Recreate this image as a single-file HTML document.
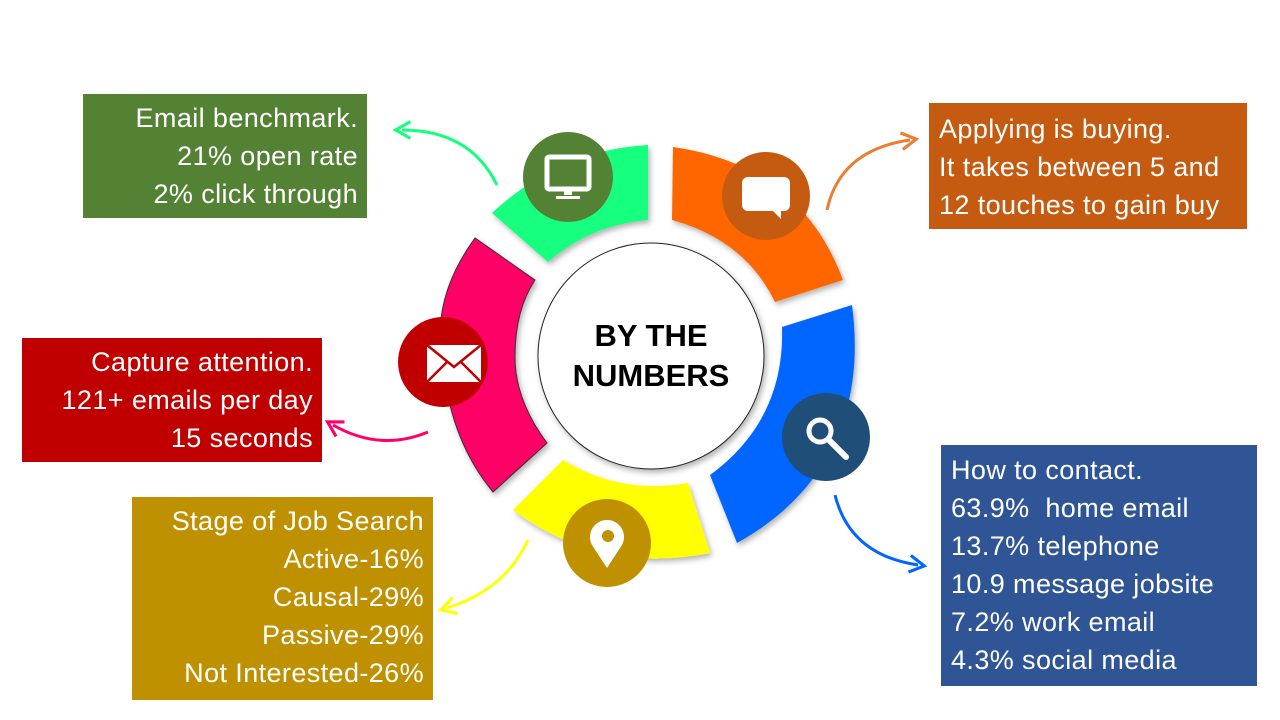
<!DOCTYPE html>
<html><head><meta charset="utf-8"><style>
body{margin:0;width:1280px;height:720px;background:#fff;overflow:hidden;position:relative;font-family:"Liberation Sans",sans-serif}
.b{position:absolute;color:#fff;font-size:27px;letter-spacing:0.4px;line-height:38px;box-sizing:border-box;white-space:nowrap}
.r{text-align:right;padding-right:9px}
.l{text-align:left;padding-left:10px}
svg{position:absolute;left:0;top:0}
</style></head><body>
<svg width="1280" height="720" viewBox="0 0 1280 720">
<defs>
<filter id="sh" x="-20%" y="-20%" width="140%" height="140%"><feDropShadow dx="2" dy="3" stdDeviation="3" flood-color="#000" flood-opacity="0.3"/></filter>
<marker id="ag" viewBox="0 0 10 10" refX="5" refY="5" markerWidth="7" markerHeight="7" orient="auto"><path d="M1,1 L8,5 L1,9" fill="none" stroke="context-stroke" stroke-width="1.5"/></marker>
</defs>
<g filter="url(#sh)">
<path d="M492,213 Q560,150 648,145 L648,220 Q590,225 548,262 Z" fill="#14FF7E"/>
<path d="M673,147 Q800,165 843,280 L775,302 Q745,240 672,220 Z" fill="#FF6600"/>
<path d="M852,305 C862,380 850,480 737,543 L710,475 Q785,420 782,327 Z" fill="#0066FF"/>
<path d="M513,510 Q600,575 710,553 L688,483 Q620,495 563,460 Z" fill="#FFFF00"/>
<path d="M475,238 Q430,300 443,363 Q450,440 493,492 L547,443 Q515,400 515,357 Q515,310 535,280 Z" fill="#FF0066" stroke="#333" stroke-width="1"/>
<circle cx="651" cy="356" r="113" fill="#fff" stroke="#222" stroke-width="1"/>
</g>
<text x="651" y="346" text-anchor="middle" font-family="Liberation Sans" font-weight="bold" font-size="31">BY THE</text>
<text x="651" y="386" text-anchor="middle" font-family="Liberation Sans" font-weight="bold" font-size="31">NUMBERS</text>
<circle cx="568" cy="177" r="45" fill="#548235"/>
<rect x="547" y="157" width="42" height="32" rx="2" fill="none" stroke="#fff" stroke-width="5"/>
<rect x="564" y="190" width="8" height="5" fill="#fff"/><rect x="556" y="196" width="24" height="3" fill="#fff"/>
<circle cx="766" cy="196" r="44" fill="#C55A11"/>
<path d="M748,177 h36 a6,6 0 0 1 6,6 v22 a6,6 0 0 1 -6,6 h-3 v8 l-8,-8 h-25 a6,6 0 0 1 -6,-6 v-22 a6,6 0 0 1 6,-6 z" fill="#fff"/>
<circle cx="443" cy="362" r="45" fill="#C00000"/>
<rect x="427" y="345" width="54" height="37" fill="#fff"/>
<path d="M427,345 L454,367 L481,345 M427,382 L447,362 M481,382 L461,362" fill="none" stroke="#C00000" stroke-width="2.5"/>
<circle cx="826" cy="437" r="44" fill="#1F4E79"/>
<circle cx="820" cy="431" r="11" fill="none" stroke="#fff" stroke-width="5"/>
<line x1="829" y1="440" x2="846" y2="457" stroke="#fff" stroke-width="6" stroke-linecap="round"/>
<circle cx="607" cy="543" r="44" fill="#BF9000"/>
<path d="M607,568 L592,545 A17,17 0 1 1 622,545 Z" fill="#fff"/>
<circle cx="608" cy="536" r="6" fill="#BF9000"/>
<path d="M497,185 Q470,130 402,130" fill="none" stroke="#14FF7E" stroke-width="3" marker-end="url(#ag)"/>
<path d="M827,210 Q840,150 910,140" fill="none" stroke="#ED7D31" stroke-width="3" marker-end="url(#ag)"/>
<path d="M428,432 Q380,452 333,425" fill="none" stroke="#FF0066" stroke-width="3" marker-end="url(#ag)"/>
<path d="M528,540 Q505,590 447,608" fill="none" stroke="#FFFF00" stroke-width="3" marker-end="url(#ag)"/>
<path d="M835,495 Q850,555 918,565" fill="none" stroke="#0066FF" stroke-width="3" marker-end="url(#ag)"/>
</svg>
<div class="b r" style="left:83px;top:94px;width:284px;height:124px;background:#548235;padding-top:5px">Email benchmark.<br>21% open rate<br>2% click through</div>
<div class="b l" style="left:929px;top:103px;width:318px;height:126px;background:#C55A11;padding-top:7px">Applying is buying.<br>It takes between 5 and<br>12 touches to gain buy</div>
<div class="b r" style="left:22px;top:338px;width:300px;height:124px;background:#C00000;padding-top:5px">Capture attention.<br>121+ emails per day<br>15 seconds</div>
<div class="b r" style="left:132px;top:497px;width:301px;height:203px;background:#BF9000;padding-top:5px">Stage of Job Search<br>Active-16%<br>Causal-29%<br>Passive-29%<br>Not Interested-26%</div>
<div class="b l" style="left:941px;top:445px;width:316px;height:241px;background:#2F5597;padding-top:6px">How to contact.<br>63.9%&nbsp; home email<br>13.7% telephone<br>10.9 message jobsite<br>7.2% work email<br>4.3% social media</div>
</body></html>
